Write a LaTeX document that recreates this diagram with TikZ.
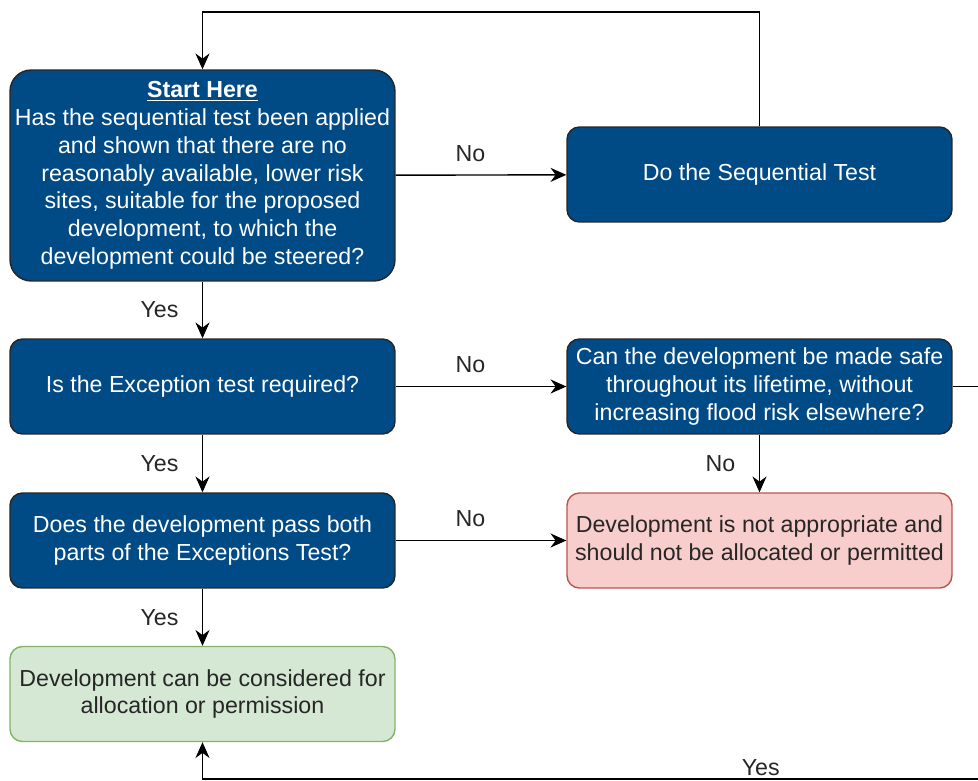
\documentclass[tikz,border=0pt]{standalone}
\usepackage{fontspec}
\setmainfont{Liberation Sans}
\usepackage{xcolor}
\usetikzlibrary{arrows.meta,positioning,calc}
\definecolor{testblue} {RGB}{0,74,134}
\definecolor{failred}  {RGB}{248,206,204}
\definecolor{failedge} {RGB}{184,84,80}
\definecolor{okgreen}  {RGB}{213,232,212}
\definecolor{okedge}   {RGB}{130,179,102}
\tikzset{
  flowbox/.style={draw, rounded corners=7pt, align=center,
                  minimum width=7.7cm, minimum height=1.9cm,
                  line width=0.8pt, inner sep=2pt,
                  font=\fontsize{13.2}{15.8}\selectfont},
  qbox/.style   ={flowbox, fill=testblue, draw=black!85, text=white},
  startbox/.style={qbox, minimum height=4.22cm, rounded corners=12pt},
  nobox/.style  ={flowbox, fill=failred, draw=failedge, text=black!85},
  yesbox/.style ={flowbox, fill=okgreen, draw=okedge, text=black!85},
  lbl/.style    ={font=\fontsize{13.2}{15}\selectfont, text=black!85},
  arr/.style    ={-{Stealth[length=9pt,width=8pt]}, line width=0.8pt},
}
\begin{document}
\begin{tikzpicture}[x=0.02cm,y=-0.02cm]
  \useasboundingbox (0,0) rectangle (978,781);
  % question boxes, left column
  \node[startbox] (start) at (202.5,175.5)
    {\underline{\textbf{Start Here}}\\Has the sequential test been applied\\
     and shown that there are no\\reasonably available, lower risk\\
     sites, suitable for the proposed\\development, to which the\\
     development could be steered?};
  \node[qbox] (exc) at (202.5,386.5) {Is the Exception test required?};
  \node[qbox] (pass) at (202.5,540.5)
    {Does the development pass both\\parts of the Exceptions Test?};
  \node[yesbox] (ok) at (202.5,694)
    {Development can be considered for\\allocation or permission};
  % right column
  \node[qbox] (seq) at (759.5,174.5) {Do the Sequential Test};
  \node[qbox] (safe) at (759.5,386.5)
    {Can the development be made safe\\throughout its lifetime, without\\increasing flood risk elsewhere?};
  \node[nobox] (notapp) at (759.5,540.5)
    {Development is not appropriate and\\should not be allocated or permitted};
  % loop corners
  \coordinate (looptop) at (759.5,12);
  \coordinate (loopright) at (1000,386.5);
  \coordinate (loopbottom) at (1000,779);
  % connectors
  \draw[arr] (start) -- node[lbl, above=4pt, xshift=-6pt] (n1) {No} (seq);
  \draw[arr] (seq.north) -- (looptop) -| (start.north);
  \draw[arr] (start) -- node[lbl, left=10pt] (y1) {Yes} (exc);
  \draw[arr] (exc) -- node[lbl, above=4pt, xshift=-6pt] (n2) {No} (safe);
  \draw[arr] (exc) -- node[lbl, left=10pt] (y2) {Yes} (pass);
  \draw[arr] (safe) -- node[lbl, left=10pt] (n3) {No} (notapp);
  \draw[arr] (pass) -- node[lbl, above=4pt, xshift=-6pt] (n4) {No} (notapp);
  \draw[arr] (pass) -- node[lbl, left=10pt] (y3) {Yes} (ok);
  \draw[arr] (safe.east) -- (loopright) -- (loopbottom)
    -| node[lbl, pos=0.15, above=-2pt] (y4) {Yes} (ok.south);
\end{tikzpicture}
\end{document}
